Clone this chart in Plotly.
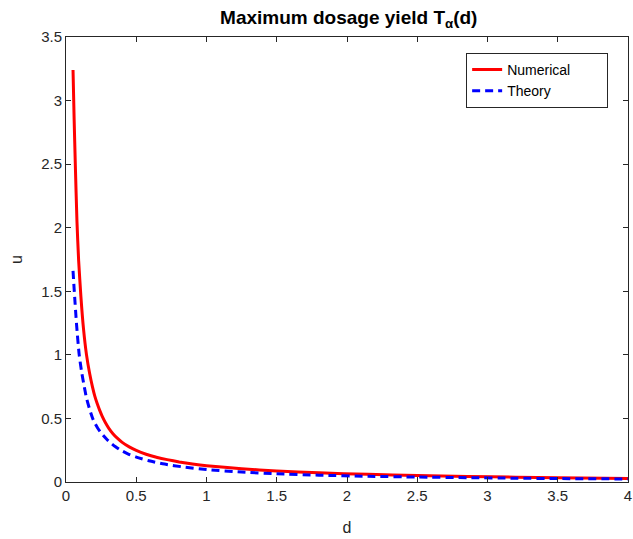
import plotly.graph_objects as go

# values
d_num = [0.05, 0.058, 0.066, 0.078, 0.09, 0.106, 0.125, 0.146, 0.168, 0.188, 0.205, 0.222, 0.24, 0.258,
         0.278, 0.305, 0.334, 0.365, 0.4, 0.45, 0.5, 0.57, 0.65, 0.72, 0.806, 0.9, 1.0, 1.25, 1.5,
         1.8, 2.15, 2.5, 2.855, 3.2, 3.5, 4.0]
u_num = [3.24, 2.85, 2.51, 2.05, 1.74, 1.46, 1.2, 1.0, 0.855, 0.75, 0.675, 0.617, 0.563, 0.516,
         0.472, 0.422, 0.38, 0.345, 0.312, 0.276, 0.248, 0.218, 0.193, 0.176, 0.158, 0.142, 0.128, 0.104, 0.087,
         0.072, 0.06, 0.051, 0.044, 0.038, 0.033, 0.028]

d_th = [0.05, 0.059, 0.075, 0.094, 0.112, 0.13, 0.146, 0.17, 0.19, 0.205, 0.225, 0.245, 0.264, 0.29,
        0.32, 0.35, 0.382, 0.44, 0.5, 0.59, 0.688, 0.85, 1.0, 1.25, 1.5, 1.8, 2.15, 2.5, 2.855,
        3.2, 3.5, 4.0]
u_th = [1.66, 1.5, 1.24, 1.0, 0.86, 0.75, 0.66, 0.565, 0.5, 0.463, 0.425, 0.393, 0.367, 0.336,
        0.305, 0.279, 0.255, 0.222, 0.196, 0.167, 0.143, 0.116, 0.098, 0.078, 0.065, 0.054, 0.045, 0.039, 0.034,
        0.03, 0.027, 0.024]

x_ticks = [0, 0.5, 1, 1.5, 2, 2.5, 3, 3.5, 4]
y_ticks = [0, 0.5, 1, 1.5, 2, 2.5, 3, 3.5]

fnt = "Liberation Sans, Arial, Helvetica, sans-serif"
ink = "#262626"
pad = "\u00a0" * 8

fig = go.Figure()
fig.add_trace(go.Scatter(x=d_num, y=u_num, mode="lines", name="Numerical" + pad,
                         line=dict(color="#ff0000", width=3, shape="spline", smoothing=0.6)))
fig.add_trace(go.Scatter(x=d_th, y=u_th, mode="lines", name="Theory" + pad,
                         line=dict(color="#0000ff", width=3, dash="8px,5px", shape="spline", smoothing=0.6)))

axis_style = dict(showline=True, linecolor=ink, linewidth=1, mirror="ticks", ticks="inside",
                  ticklen=5, tickcolor=ink, showgrid=False, zeroline=False,
                  ticklabeloverflow="allow",
                  tickfont=dict(family=fnt, size=15, color=ink))

fig.update_layout(
    width=633, height=539,
    margin=dict(l=66, r=1, t=37, b=57),
    paper_bgcolor="white", plot_bgcolor="white",
    font=dict(family=fnt, color=ink),
    title=dict(text="<b>Maximum dosage yield T<sub>α</sub>(d)</b>", x=0.551, xanchor="center",
               y=0.968, yanchor="middle", font=dict(family=fnt, size=19, color="black")),
    xaxis=dict(range=[0, 4], tickvals=x_ticks, ticktext=[f"{v:g}" for v in x_ticks],
               title=dict(text="d", font=dict(family=fnt, size=16, color=ink), standoff=18), **axis_style),
    yaxis=dict(range=[0, 3.5], tickvals=y_ticks, ticktext=[f"{v:g}" for v in y_ticks],
               title=dict(text="u", font=dict(family=fnt, size=16, color=ink), standoff=14), **axis_style),
    legend=dict(x=0.712, y=0.964, xanchor="left", yanchor="top", bgcolor="white",
                bordercolor=ink, borderwidth=1, font=dict(family=fnt, size=14, color="black"),
                tracegroupgap=0),
    showlegend=True,
)

fig.write_html("out.html", config={"displayModeBar": False},
               post_script="document.body.style.margin='0px';document.body.style.overflow='hidden';")
